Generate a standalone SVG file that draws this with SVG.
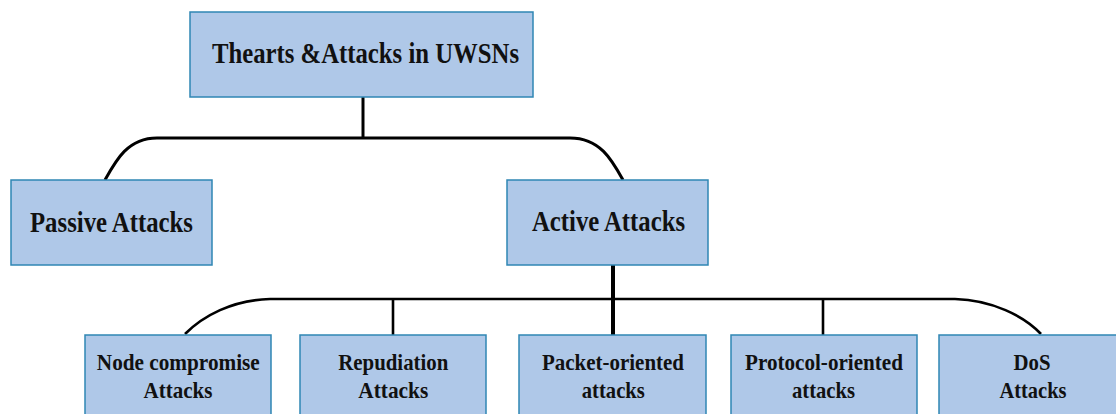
<svg xmlns="http://www.w3.org/2000/svg" width="1116" height="414" viewBox="0 0 1116 414">
  <style>
    .box { fill: #afc8e8; stroke: #2f86b4; stroke-width: 1.5; }
    .lbl { font-family: "Liberation Serif", "Times New Roman", serif; font-weight: bold; fill: #111; lengthAdjust: spacingAndGlyphs; }
    .big { font-size: 29px; }
    .small { font-size: 23px; }
    .wire { fill: none; stroke: #000; stroke-width: 3; }
  </style>
  <rect width="1116" height="414" fill="#fff"/>

  <!-- connectors -->
  <g id="connectors">
    <path class="wire" d="M363,97 V138"/>
    <path class="wire" d="M157,138 H570"/>
    <path class="wire" d="M157,138 C128,138 116,160 105,180"/>
    <path class="wire" d="M570,138 C600,138 612,160 623,180"/>
    <path class="wire" stroke-width="4" d="M613,265 V335" style="stroke-width:4"/>
    <path class="wire" d="M270,299 H955" style="stroke-width:2.6"/>
    <path class="wire" d="M270,299 C232,300 203,316 185,334" style="stroke-width:2.6"/>
    <path class="wire" d="M955,299 C992,300 1024,316 1041,334" style="stroke-width:2.6"/>
    <path class="wire" d="M393,299 V335" style="stroke-width:2.6"/>
    <path class="wire" d="M823,299 V335" style="stroke-width:2.6"/>
  </g>

  <g id="root">
    <rect class="box" x="190" y="12" width="343" height="85"/>
    <text class="lbl big" x="212" y="63" textLength="307" lengthAdjust="spacingAndGlyphs">Thearts &amp;Attacks in UWSNs</text>
  </g>

  <g id="passive">
    <rect class="box" x="11" y="180" width="201" height="85"/>
    <text class="lbl big" x="30" y="232" textLength="163" lengthAdjust="spacingAndGlyphs">Passive Attacks</text>
  </g>

  <g id="active">
    <rect class="box" x="507" y="180" width="201" height="85"/>
    <text class="lbl big" x="532" y="231" textLength="153" lengthAdjust="spacingAndGlyphs">Active Attacks</text>
  </g>

  <g id="node-compromise">
    <rect class="box" x="85" y="335" width="186" height="90"/>
    <text class="lbl small" x="178.3" y="370" text-anchor="middle" textLength="163" lengthAdjust="spacingAndGlyphs">Node compromise</text>
    <text class="lbl small" x="178" y="398" text-anchor="middle" textLength="69" lengthAdjust="spacingAndGlyphs">Attacks</text>
  </g>

  <g id="repudiation">
    <rect class="box" x="300" y="335" width="186" height="90"/>
    <text class="lbl small" x="393.3" y="370" text-anchor="middle" textLength="110" lengthAdjust="spacingAndGlyphs">Repudiation</text>
    <text class="lbl small" x="393.3" y="398" text-anchor="middle" textLength="70" lengthAdjust="spacingAndGlyphs">Attacks</text>
  </g>

  <g id="packet-oriented">
    <rect class="box" x="519" y="335" width="187" height="90"/>
    <text class="lbl small" x="613" y="370" text-anchor="middle" textLength="142" lengthAdjust="spacingAndGlyphs">Packet-oriented</text>
    <text class="lbl small" x="613.3" y="398" text-anchor="middle" textLength="63" lengthAdjust="spacingAndGlyphs">attacks</text>
  </g>

  <g id="protocol-oriented">
    <rect class="box" x="731" y="335" width="186" height="90"/>
    <text class="lbl small" x="824" y="370" text-anchor="middle" textLength="158" lengthAdjust="spacingAndGlyphs">Protocol-oriented</text>
    <text class="lbl small" x="823.5" y="398" text-anchor="middle" textLength="63" lengthAdjust="spacingAndGlyphs">attacks</text>
  </g>

  <g id="dos">
    <rect class="box" x="939" y="335" width="190" height="90"/>
    <text class="lbl small" x="1032" y="370" text-anchor="middle" textLength="37" lengthAdjust="spacingAndGlyphs">DoS</text>
    <text class="lbl small" x="1033" y="398" text-anchor="middle" textLength="67" lengthAdjust="spacingAndGlyphs">Attacks</text>
  </g>
</svg>
